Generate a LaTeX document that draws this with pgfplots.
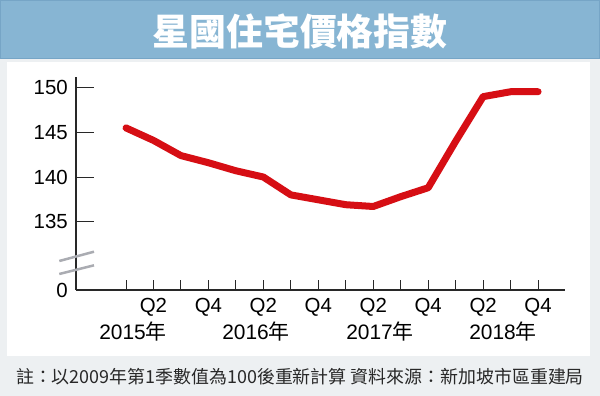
\documentclass[border=0pt]{standalone}
\usepackage{fontspec}
\setmainfont{Liberation Sans}
\newfontfamily\cjk{Noto Sans CJK TC}
\usepackage{pgfplots}
\pgfplotsset{compat=1.18}
\definecolor{titleblue}{RGB}{135,181,211}
\definecolor{titleedge}{RGB}{118,165,198}
\definecolor{linered}{RGB}{214,14,20}
\definecolor{bggray}{RGB}{237,240,242}
\definecolor{breakgray}{RGB}{170,172,178}
\definecolor{axisgray}{RGB}{40,40,40}
\begin{document}
\begin{tikzpicture}
\path[use as bounding box, fill=bggray] (0bp,0bp) rectangle (600bp,396bp);
\fill[white] (7bp,40bp) rectangle (590bp,334bp);
\fill[titleblue] (0bp,337bp) rectangle (600bp,396bp);
\draw[titleedge, line width=1bp] (0.5bp,337.5bp) rectangle (599.5bp,395.5bp);
\node[text=white, font=\cjk\bfseries\fontsize{37}{40}\selectfont] at (300bp,365bp) {星國住宅價格指數};
\node[text=axisgray, font=\cjk\fontsize{18}{20}\selectfont] at (300bp,19bp) {註：以2009年第1季數值為100後重新計算\ 資料來源：新加坡市區重建局};
\begin{axis}[
  at={(76bp,106bp)}, anchor=south west,
  scale only axis, width=489bp, height=213bp,
  xmin=-0.82, xmax=16.98, ymin=127.35, ymax=151.2,
  axis x line*=bottom, axis y line*=left,
  axis line style={axisgray, line width=1.3bp, -},
  tick align=inside,
  tick style={axisgray, line width=1bp},
  xtick style={/pgfplots/major tick length=10bp},
  ytick style={/pgfplots/major tick length=18bp},
  xtick={1,...,16},
  xticklabels={,Q2,,Q4,,Q2,,Q4,,Q2,,Q4,,Q2,,Q4},
  ytick={135,140,145,150},
  extra y ticks={127.35}, extra y tick labels={0},
  extra y tick style={ytick style={/pgfplots/major tick length=0pt}},
  /pgf/number format/assume math mode=true,
  yticklabel style={anchor=east, inner sep=0pt, xshift=-8bp, font=\fontsize{20.5}{22}\selectfont, text=black},
  xticklabel style={anchor=base, inner sep=0pt, yshift=-22.5bp, font=\fontsize{20.5}{22}\selectfont, text=black},
  clip=false,
]
\addplot[linered, line width=7bp, line cap=round, line join=round, mark=none] coordinates {
(1,145.5)(2,144.1)(3,142.4)(4,141.6)(5,140.7)(6,140.0)(7,138.0)(8,137.45)
(9,136.9)(10,136.7)(11,137.8)(12,138.8)(13,144.0)(14,149.0)(15,149.55)(16,149.55)};
\end{axis}
\draw[breakgray, line width=2.5bp] (59.3bp,135bp) -- (94bp,144.3bp);
\draw[breakgray, line width=2.5bp] (59.3bp,122bp) -- (94bp,130.7bp);
\foreach \xx/\yy in {133/2015,256/2016,380/2017,503/2018}
  \node[anchor=base, inner sep=0pt, font=\fontsize{21}{23}\selectfont] at (\xx bp,56bp) {\yy\cjk{年}};
\end{tikzpicture}
\end{document}
